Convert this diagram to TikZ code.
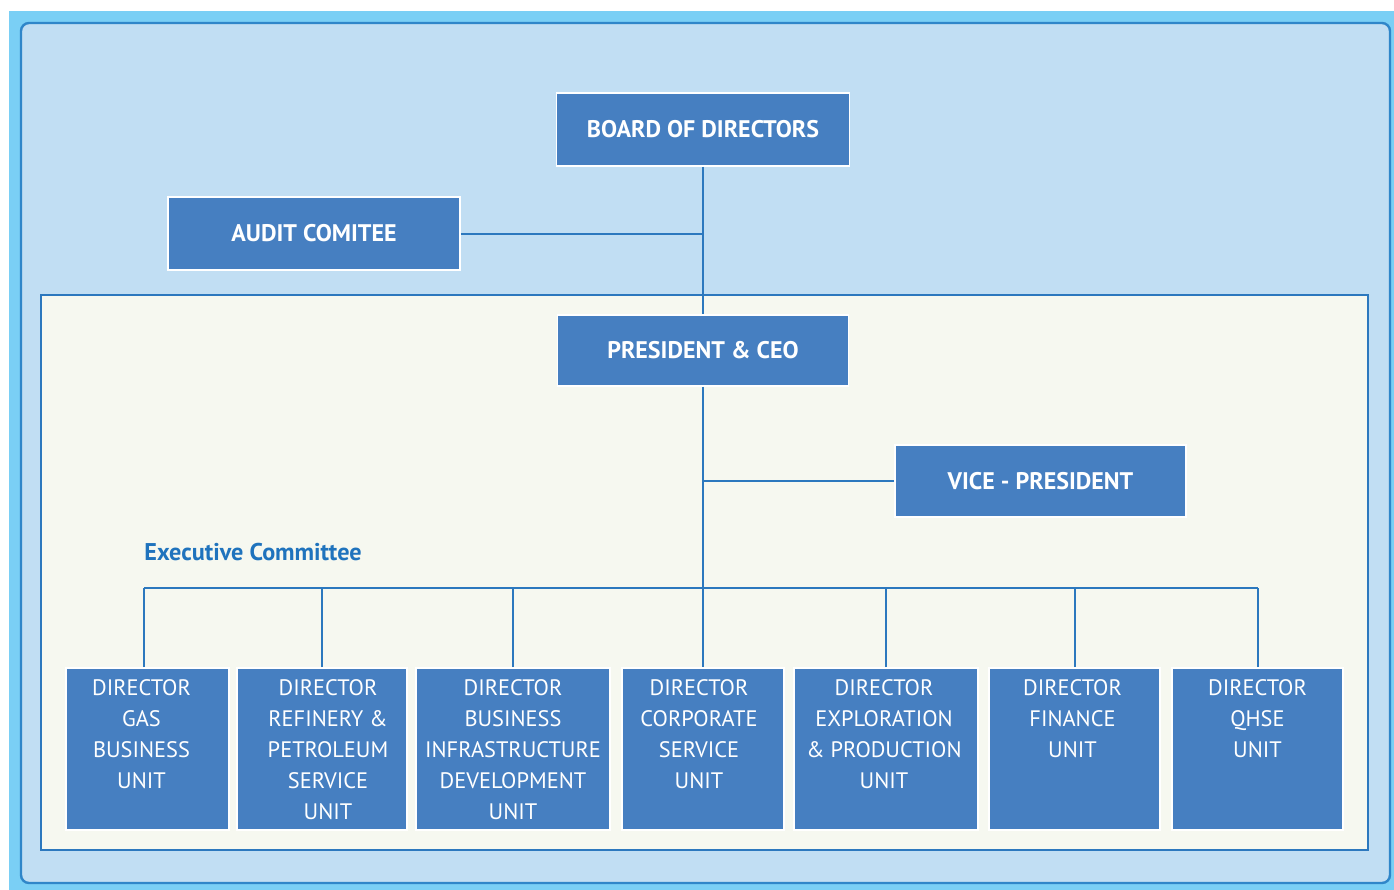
\documentclass[tikz,border=0pt]{standalone}
\usepackage{fontspec}
\setmainfont{PT Sans}
\usepackage{xcolor}
\usepackage{tikz}
\definecolor{skyframe}{HTML}{7ACFF5}
\definecolor{paleblue}{HTML}{C1DEF3}
\definecolor{rimblue}{HTML}{2F86C9}
\definecolor{panelwhite}{HTML}{F6F8F0}
\definecolor{boxblue}{HTML}{467FC1}
\definecolor{lineblue}{HTML}{2C78BE}
\definecolor{titleblue}{HTML}{1F73BD}
\tikzstyle{office} = [rectangle, fill=boxblue, draw=white, line width=0.8pt, text=white, font=\bfseries\fontsize{12}{14}\selectfont, text centered]
\tikzstyle{unit} = [rectangle, fill=boxblue, draw=white, line width=0.8pt, minimum height=81pt]
\tikzstyle{unittext} = [anchor=north, text=white, align=center, inner sep=0pt, yshift=-6pt, font=\fontsize{11.2}{15.5}\selectfont]
\tikzstyle{link} = [draw=lineblue, line width=1pt]

\begin{document}
\begin{tikzpicture}[x=0.5pt, y=-0.5pt]
        \useasboundingbox (0,0) rectangle (1394,890);
        \fill [skyframe] (9,11) rectangle (1394,890);
        \draw [rimblue, line width=1.2pt, fill=paleblue, rounded corners=4pt] (21,23) rectangle (1390,883);
        \draw [lineblue, line width=1pt, fill=panelwhite] (41,295) rectangle (1368,850);

        \node (board) [office, minimum width=146.5pt, minimum height=36.5pt] at (703,129.5) {BOARD OF DIRECTORS};
        \node (audit) [office, minimum width=146pt, minimum height=36.5pt] at (314,233.5) {AUDIT COMITEE};
        \node (ceo) [office, minimum width=145.5pt, minimum height=35.5pt] at (703,350.5) {PRESIDENT \& CEO};
        \node (vp) [office, minimum width=145.5pt, minimum height=36pt] at (1040.5,481) {VICE - PRESIDENT};

        \node (excom) [anchor=base west, inner sep=0pt, text=titleblue, font=\bfseries\fontsize{12.1}{14}\selectfont] at (144,560) {Executive Committee};

        \node (gas) [unit, minimum width=81.5pt, label={[unittext, xshift=-3pt]north:DIRECTOR\\GAS\\BUSINESS\\UNIT}] at (147.5,749) {};
        \node (refinery) [unit, minimum width=85pt, label={[unittext, xshift=3pt]north:DIRECTOR\\REFINERY \&\\PETROLEUM\\SERVICE\\UNIT}] at (322,749) {};
        \node (infra) [unit, minimum width=97pt, label={[unittext]north:DIRECTOR\\BUSINESS\\INFRASTRUCTURE\\DEVELOPMENT\\UNIT}] at (513,749) {};
        \node (corporate) [unit, minimum width=81pt, label={[unittext, xshift=-2pt]north:DIRECTOR\\CORPORATE\\SERVICE\\UNIT}] at (703,749) {};
        \node (explore) [unit, minimum width=92pt, label={[unittext, xshift=-1pt]north:DIRECTOR\\EXPLORATION\\\& PRODUCTION\\UNIT}] at (886,749) {};
        \node (finance) [unit, minimum width=85.5pt, label={[unittext, xshift=-1pt]north:DIRECTOR\\FINANCE\\UNIT}] at (1074.5,749) {};
        \node (qhse) [unit, minimum width=85.5pt, label={[unittext]north:DIRECTOR\\QHSE\\UNIT}] at (1257.5,749) {};

        \coordinate (bus) at (703,588);

        \draw [link] (board) -- (ceo);
        \draw [link] (audit.east) -- (audit.east -| board.south);
        \draw [link] (ceo) -- (corporate);
        \draw [link] (vp.west) -- (vp.west -| ceo.south);
        \draw [link] ([xshift=-1.75pt]gas.north |- bus) -- (qhse.north |- bus);
        \draw [link] ([xshift=-1.75pt]gas.north) -- ([xshift=-1.75pt]gas.north |- bus);
        \foreach \u in {refinery, infra, explore, finance, qhse}
            \draw [link] (\u.north) -- (\u.north |- bus);
    \end{tikzpicture}
\end{document}
